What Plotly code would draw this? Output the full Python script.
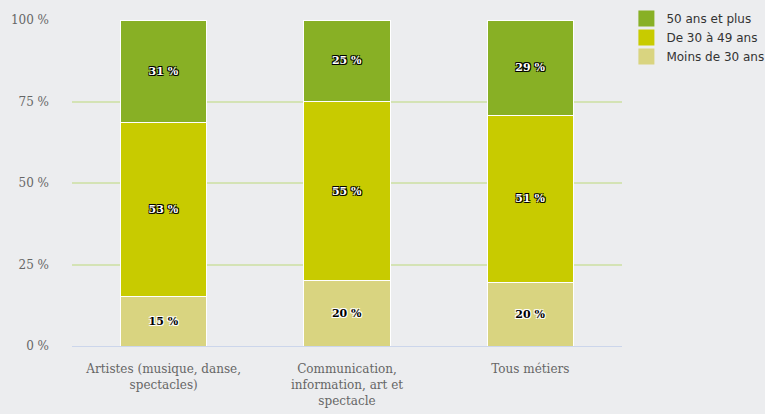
import plotly.graph_objects as go

categories = ["Artistes (musique, danse,<br>spectacles)",
              "Communication,<br>information, art et<br>spectacle",
              "Tous métiers"]
moins_30 = [15.2, 20.1, 19.6]
de_30_49 = [53.4, 54.8, 51.1]
plus_50 = [31.4, 25.1, 29.3]
y_ticks = [0, 25, 50, 75, 100]
y_tick_labels = ["0 %", "25 %", "50 %", "75 %", "100 %"]

dark_outline = "-1px -1px 0 #000, 1px -1px 0 #000, -1px 1px 0 #000, 1px 1px 0 #000"
light_outline = "-1px -1px 0 #fff, 1px -1px 0 #fff, -1px 1px 0 #fff, 1px 1px 0 #fff"

series = [
    ("Moins de 30 ans", moins_30, "#d9d480", "#000000", light_outline),
    ("De 30 à 49 ans", de_30_49, "#c8cb00", "#ffffff", dark_outline),
    ("50 ans et plus", plus_50, "#88b025", "#ffffff", dark_outline),
]

fig = go.Figure()
for name, vals, color, tcol, shadow in series:
    fig.add_trace(go.Bar(
        x=categories, y=vals, name=name, showlegend=False,
        marker=dict(color=color, line=dict(color="#ffffff", width=1)),
        texttemplate="%{y:.0f} %", textposition="inside",
        insidetextanchor="middle", textangle=0,
        textfont=dict(family="DejaVu Serif, serif", size=11, color=tcol,
                      weight="bold", shadow=shadow),
        hoverinfo="skip",
    ))
# legend entries with larger square symbols
for name, vals, color, tcol, shadow in series:
    fig.add_trace(go.Scatter(
        x=[None], y=[None], mode="markers", name=name,
        marker=dict(symbol="square", size=16, color=color),
        showlegend=True, hoverinfo="skip",
    ))

fig.update_layout(
    barmode="stack",
    width=765, height=414,
    margin=dict(l=72, r=143, t=20, b=68, autoexpand=False),
    paper_bgcolor="#ecedef", plot_bgcolor="#ecedef",
    bargap=0.53,
    showlegend=True,
    legend=dict(x=1.008, y=1.049, xanchor="left", yanchor="top",
                traceorder="reversed",
                font=dict(family="DejaVu Sans, sans-serif", size=12, color="#333333"),
                bgcolor="rgba(0,0,0,0)", tracegroupgap=0),
)
fig.update_xaxes(
    showline=True, linecolor="#ccd6eb", linewidth=1,
    tickfont=dict(family="DejaVu Serif, serif", size=12, color="#666666"),
    ticks="", showgrid=False, ticklabelstandoff=12,
)
fig.update_yaxes(
    range=[0, 100], tickvals=y_ticks, ticktext=y_tick_labels,
    showgrid=True, gridcolor="#d4e3b5", gridwidth=2,
    zeroline=False, showline=False,
    tickfont=dict(family="DejaVu Serif, serif", size=12, color="#666666"),
    ticklabelstandoff=22,
)

fig.write_html("out.html",
               config={"displayModeBar": False},
               post_script="document.body.style.margin='0';document.body.style.overflow='hidden';")
